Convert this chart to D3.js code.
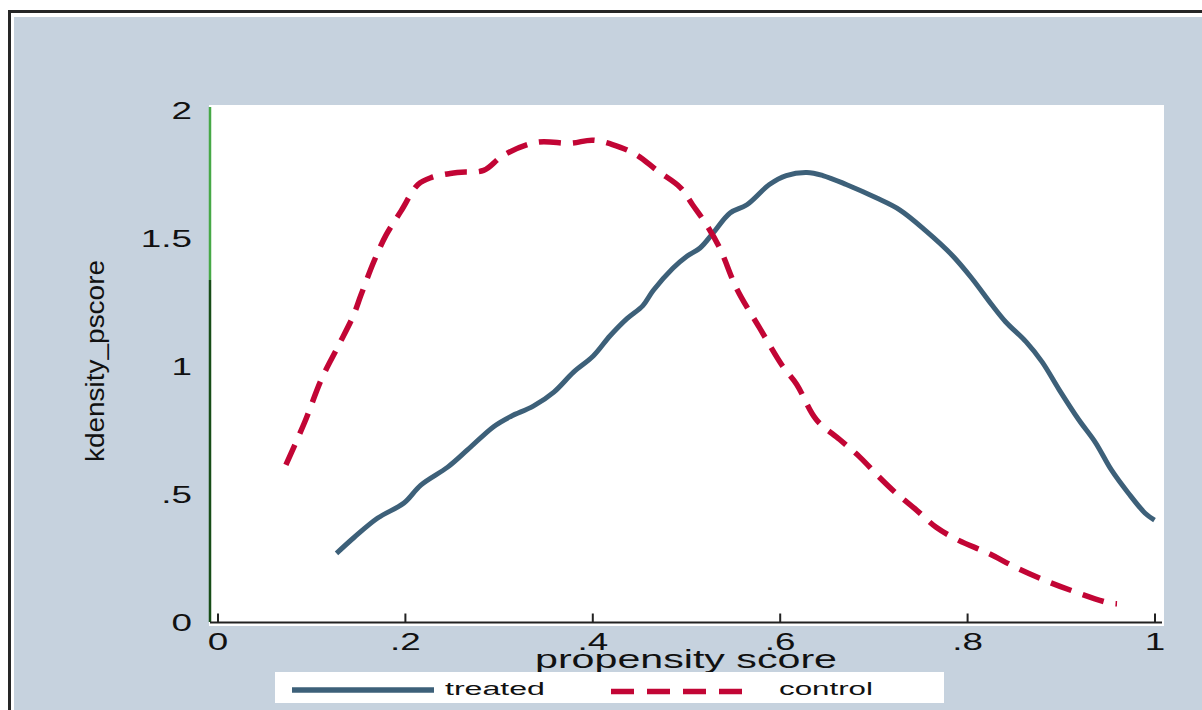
<!DOCTYPE html>
<html>
<head>
<meta charset="utf-8">
<script src="https://cdn.jsdelivr.net/npm/d3@7"></script>
<style>
  body { margin: 0; background: #fff; }
  text { font-family: "Liberation Sans", Arial, sans-serif; fill: #111; }
</style>
</head>
<body>
<div id="chart"></div>
<script>
// kernel density of propensity score
const treatedScore = [0.127, 0.146, 0.171, 0.199, 0.217, 0.246, 0.267, 0.295, 0.313, 0.337, 0.359, 0.380,
  0.401, 0.419, 0.437, 0.454, 0.465, 0.486, 0.501, 0.515, 0.529, 0.547, 0.565, 0.589, 0.607, 0.629,
  0.646, 0.671, 0.703, 0.728, 0.756, 0.784, 0.805, 0.827, 0.841, 0.863, 0.880, 0.898, 0.919, 0.937,
  0.954, 0.972, 0.990, 1.0];
const treatedDensity = [0.268, 0.331, 0.406, 0.465, 0.535, 0.606, 0.673, 0.764, 0.803, 0.843, 0.898, 0.976,
  1.039, 1.118, 1.185, 1.236, 1.295, 1.382, 1.429, 1.461, 1.520, 1.598, 1.630, 1.709, 1.744, 1.756,
  1.744, 1.709, 1.657, 1.610, 1.528, 1.433, 1.343, 1.236, 1.173, 1.094, 1.016, 0.909, 0.791, 0.701,
  0.594, 0.504, 0.425, 0.398];
const controlScore = [0.073, 0.093, 0.111, 0.129, 0.145, 0.153, 0.167, 0.180, 0.196, 0.214, 0.228, 0.256,
  0.284, 0.305, 0.341, 0.377, 0.401, 0.430, 0.448, 0.469, 0.494, 0.507, 0.522, 0.536, 0.554, 0.579,
  0.603, 0.618, 0.639, 0.664, 0.685, 0.706, 0.724, 0.746, 0.767, 0.791, 0.823, 0.852, 0.884, 0.912,
  0.951, 0.960];
const controlDensity = [0.614, 0.780, 0.949, 1.079, 1.197, 1.276, 1.409, 1.512, 1.606, 1.709, 1.736, 1.756,
  1.764, 1.823, 1.874, 1.870, 1.882, 1.854, 1.823, 1.764, 1.697, 1.630, 1.551, 1.461, 1.303, 1.146,
  1.000, 0.929, 0.791, 0.713, 0.646, 0.567, 0.504, 0.437, 0.370, 0.319, 0.268, 0.213, 0.161, 0.122,
  0.075, 0.071];
const xTicks = [0, 0.2, 0.4, 0.6, 0.8, 1];
const yTicks = [0, 0.5, 1, 1.5, 2];
const legendLabels = ["treated", "control"];
const xTitle = "propensity score";
const yTitle = "kdensity_pscore";

function chart(container) {
  //size
  const width = 1202;
  const height = 710;
  const plot = { left: 209, top: 105, right: 1164, bottom: 626 };
  const stretch = 1.6; // the stata text is drawn wide
  const blue = "#3d6079";
  const red = "#c20535";

  const fmt = (d) => (d === 0 ? "0" : String(d).replace(/^0\./, "."));

  //scale
  const xScale = d3.scaleLinear().domain([0, 1]).range([217.5, 1154.5]);
  const yScale = d3.scaleLinear().domain([0, 2]).range([622, 110]);

  const svg = container
    .append("svg")
    .attr("width", width)
    .attr("height", height);

  // frame + graph region
  svg.append("rect").attr("width", width).attr("height", height).attr("fill", "#fff");
  svg
    .append("rect")
    .attr("x", 9.5)
    .attr("y", 11.5)
    .attr("width", width + 20)
    .attr("height", height + 20)
    .attr("fill", "none")
    .attr("stroke", "#262626")
    .attr("stroke-width", 3);
  svg
    .append("rect")
    .attr("x", 14)
    .attr("y", 17)
    .attr("width", width)
    .attr("height", height)
    .attr("fill", "#c6d2de");
  svg
    .append("rect")
    .attr("x", plot.left)
    .attr("y", plot.top)
    .attr("width", plot.right - plot.left)
    .attr("height", plot.bottom - plot.top)
    .attr("fill", "#fff");

  // green line on the left edge
  svg
    .append("line")
    .attr("x1", plot.left + 1)
    .attr("x2", plot.left + 1)
    .attr("y1", plot.top + 2)
    .attr("y2", 280)
    .attr("stroke", "#46a846")
    .attr("stroke-width", 2.5);
  svg
    .append("line")
    .attr("x1", plot.left + 1)
    .attr("x2", plot.left + 1)
    .attr("y1", 280)
    .attr("y2", yScale(0))
    .attr("stroke", "#174d17")
    .attr("stroke-width", 2.5);

  // x axis
  svg
    .append("line")
    .attr("x1", plot.left + 1)
    .attr("x2", plot.right - 2)
    .attr("y1", 622.5)
    .attr("y2", 622.5)
    .attr("stroke", "#222")
    .attr("stroke-width", 2);

  svg
    .append("g")
    .attr("transform", `translate(0,622.5)`)
    .call(d3.axisBottom(xScale).tickValues(xTicks).tickSize(-9).tickSizeOuter(0).tickFormat(fmt))
    .call((g) => {
      g.select(".domain").remove();
      g.attr("font-size", 23).attr("font-family", null);
      g.selectAll("line").attr("stroke", "#222").attr("stroke-width", 2);
      g.selectAll("text")
        .attr("fill", "#111")
        .attr("y", 0)
        .attr("dy", 0)
        .attr("transform", `translate(0,27.5) scale(${stretch},1)`);
    });

  // y axis
  svg
    .append("g")
    .attr("transform", `translate(${plot.left},0)`)
    .call(d3.axisLeft(yScale).tickValues(yTicks).tickSize(0).tickFormat(fmt))
    .call((g) => {
      g.select(".domain").remove();
      g.selectAll("line").remove();
      g.attr("font-size", 23).attr("font-family", null);
      g.selectAll("text")
        .attr("fill", "#111")
        .attr("x", 0)
        .attr("dy", "0.36em")
        .attr("transform", `translate(-17,0) scale(${stretch},1)`);
    });

  // axis titles
  svg
    .append("text")
    .attr("x", 686)
    .attr("y", 668)
    .attr("text-anchor", "middle")
    .attr("font-size", 25)
    .attr("textLength", 302)
    .attr("lengthAdjust", "spacingAndGlyphs")
    .text(xTitle);

  svg
    .append("text")
    .attr("transform", "translate(104,361) rotate(-90)")
    .attr("text-anchor", "middle")
    .attr("font-size", 25)
    .attr("textLength", 202)
    .attr("lengthAdjust", "spacingAndGlyphs")
    .text(yTitle);

  //lines
  const line = d3
    .line()
    .x((d) => xScale(d[0]))
    .y((d) => yScale(d[1]))
    .curve(d3.curveCatmullRom.alpha(0.5));

  svg
    .append("path")
    .datum(d3.zip(treatedScore, treatedDensity))
    .attr("fill", "none")
    .attr("stroke", blue)
    .attr("stroke-width", 5)
    .attr("stroke-linejoin", "round")
    .attr("d", line);

  svg
    .append("path")
    .datum(d3.zip(controlScore, controlDensity))
    .attr("fill", "none")
    .attr("stroke", red)
    .attr("stroke-width", 5.5)
    .attr("stroke-dasharray", "22,12")
    .attr("d", line);

  // legend
  const legend = svg.append("g");
  legend
    .append("rect")
    .attr("x", 275)
    .attr("y", 672)
    .attr("width", 669)
    .attr("height", 31)
    .attr("fill", "#fff");

  const items = [
    { label: legendLabels[0], color: blue, dash: null, x1: 292, x2: 434, ly: 690, tx: 445, tl: 100 },
    { label: legendLabels[1], color: red, dash: "23,13", x1: 611, x2: 742, ly: 691.5, tx: 779, tl: 94 },
  ];
  legend
    .selectAll("line")
    .data(items)
    .join("line")
    .attr("x1", (d) => d.x1)
    .attr("x2", (d) => d.x2)
    .attr("y1", (d) => d.ly)
    .attr("y2", (d) => d.ly)
    .attr("stroke", (d) => d.color)
    .attr("stroke-width", 5.5)
    .attr("stroke-dasharray", (d) => d.dash);
  legend
    .selectAll("text")
    .data(items)
    .join("text")
    .attr("x", (d) => d.tx)
    .attr("y", 695)
    .attr("font-size", 18)
    .attr("textLength", (d) => d.tl)
    .attr("lengthAdjust", "spacingAndGlyphs")
    .text((d) => d.label);
}

chart(d3.select("#chart"));
</script>
</body>
</html>
